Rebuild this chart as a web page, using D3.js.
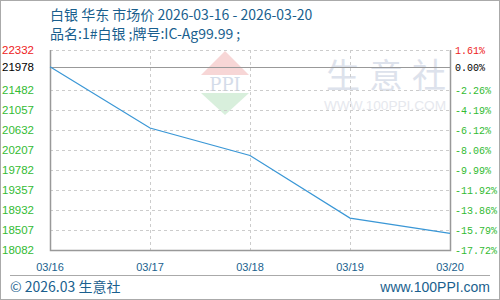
<!DOCTYPE html>
<html><head><meta charset="utf-8">
<script src="https://cdn.jsdelivr.net/npm/d3@7"></script>
<style>body{margin:0;background:#fff}svg{display:block}</style>
</head><body>
<script>
const dates = ["03/16","03/17","03/18","03/19","03/20"];
const prices = [21978, 20675, 20090, 18760, 18437];
const leftTicks = [22332,21978,21482,21057,20632,20207,19782,19357,18932,18507,18082];
const rightTicks = ["1.61%","0.00%","-2.26%","-4.19%","-6.12%","-8.06%","-9.99%","-11.92%","-13.86%","-15.79%","-17.72%"];
const title = "白银 华东 市场价 2026-03-16 - 2026-03-20";
const subtitle = "品名:1#白银 ;牌号:IC-Ag99.99 ;";

const W=500,H=300;
const svg=d3.select("body").append("svg").attr("width",W).attr("height",H);
svg.append("rect").attr("x",0.5).attr("y",0.5).attr("width",W-1).attr("height",H-1).attr("fill","#fff").attr("stroke","#aaa");

const x=d3.scalePoint().domain(dates).range([50,450]);
const y=d3.scaleLinear().domain([18082,22332]).range([250,50]);
const blue="#1a5f8e";
const font="'Liberation Sans',Arial,sans-serif";
const cjk="'Noto Sans CJK SC',sans-serif";

svg.append("text").attr("x",50).attr("y",20).attr("fill",blue).attr("font-size",14).attr("font-family",cjk).text(title);
svg.append("text").attr("x",50).attr("y",39).attr("fill",blue).attr("font-size",14).attr("font-family",cjk).text(subtitle);

// watermark
const wm=svg.append("g");
wm.append("path").attr("d","M225,51 L249,75 L201,75 Z").attr("fill","#f7d6d6");
wm.append("path").attr("d","M201,93 L249,93 L225,115 Z").attr("fill","#d8efdc");
wm.append("text").attr("x",225).attr("y",91).attr("text-anchor","middle").attr("font-size",18).attr("font-family","'DejaVu Serif',serif").attr("fill","#d4dce9").text("PPI");
["生","意","社"].forEach((c,i)=>{
  wm.append("text").attr("x",343+i*43).attr("y",88).attr("text-anchor","middle").attr("font-size",34).attr("font-family",cjk).attr("fill","#dde2ec").text(c);
});
wm.append("text").attr("x",324).attr("y",110).attr("textLength",122).attr("lengthAdjust","spacingAndGlyphs").attr("font-size",13).attr("font-family",font).attr("fill","#e6e8ee").text("WWW.100PPI.COM");

// grid
const g=svg.append("g");
leftTicks.forEach((t,i)=>{
  if(i===0||i===leftTicks.length-1) return;
  g.append("line").attr("x1",50).attr("x2",450).attr("y1",Math.round(y(t))+0.5).attr("y2",Math.round(y(t))+0.5)
   .attr("stroke",i===1?"#999":"#ccc").attr("stroke-dasharray",i===1?null:"3,3");
});
g.append("line").attr("x1",50).attr("x2",450).attr("y1",50.5).attr("y2",50.5).attr("stroke","#ccc").attr("stroke-dasharray","3,3");
dates.slice(1,-1).forEach(d=>{
  g.append("line").attr("x1",x(d)+0.5).attr("x2",x(d)+0.5).attr("y1",50).attr("y2",250).attr("stroke","#ccc").attr("stroke-dasharray","3,3");
});
g.append("path").attr("d","M50.5,50 V250.5 H450.5 V50").attr("fill","none").attr("stroke","#999").attr("stroke-width",1.5);

// line
svg.append("path").datum(prices.map((p,i)=>[dates[i],p]))
  .attr("d",d3.line().x(d=>x(d[0])).y(d=>y(d[1])))
  .attr("fill","none").attr("stroke","#3a97d6").attr("stroke-width",1.2);

// y labels
const col=i=>i===0?"#ee2222":(i===1?"#000":"#33bb33");
leftTicks.forEach((t,i)=>{
  svg.append("text").attr("x",34).attr("y",y(t)+4).attr("text-anchor","end").attr("font-size",11.5).attr("font-family",font).attr("fill",col(i)).text(t);
  svg.append("text").attr("x",455).attr("y",y(t)+4).attr("font-size",10).attr("font-family","'Liberation Mono',monospace").attr("fill",col(i)).text(rightTicks[i]);
});

// x labels
dates.forEach(d=>{
  svg.append("text").attr("x",x(d)).attr("y",271).attr("text-anchor","middle").attr("font-size",11).attr("font-family",font).attr("fill",blue).text(d);
});
svg.append("line").attr("x1",10).attr("x2",490).attr("y1",275.5).attr("y2",275.5).attr("stroke","#aaa");
svg.append("text").attr("x",10).attr("y",292).attr("font-size",14).attr("font-family",cjk).attr("fill",blue).text("© 2026.03 生意社");
svg.append("text").attr("x",490).attr("y",292).attr("text-anchor","end").attr("font-size",14).attr("font-family",font).attr("fill",blue).text("www.100PPI.com");
</script>
</body></html>
